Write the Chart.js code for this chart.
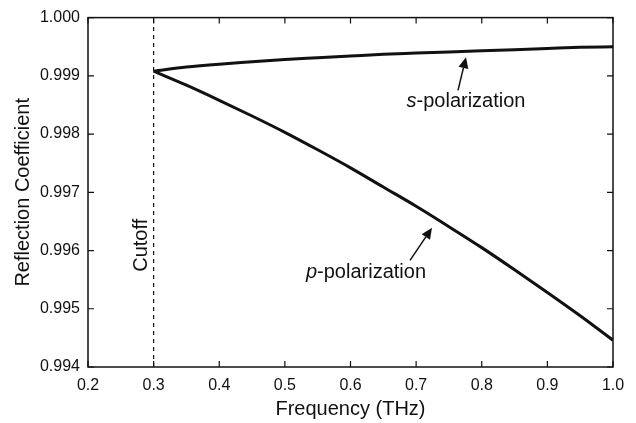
<!DOCTYPE html>
<html>
<head>
<meta charset="utf-8">
<script src="https://cdn.jsdelivr.net/npm/chart.js@4.4.1/dist/chart.umd.min.js"></script>
<style>
  html, body { margin: 0; padding: 0; background: #fff; }
  #wrap { width: 636px; height: 423px; }
</style>
</head>
<body>
<div id="wrap"><canvas id="grafico"></canvas></div>
<script>
// frecuencias (THz) y coeficientes de reflexion
const frecuencias = [0.30, 0.35, 0.40, 0.45, 0.50, 0.55, 0.60, 0.65, 0.70, 0.75, 0.80, 0.85, 0.90, 0.95, 1.00]
const polS = [0.99908, 0.99915, 0.99920, 0.99924, 0.99928, 0.99931, 0.99934, 0.99937, 0.99939, 0.99941, 0.99943, 0.99945, 0.99947, 0.99949, 0.99950]
const polP = [0.99908, 0.99884, 0.99858, 0.99831, 0.99803, 0.99773, 0.99742, 0.99709, 0.99676, 0.99641, 0.99605, 0.99567, 0.99528, 0.99488, 0.99446]
const corte = 0.3
const ticksX = [0.2, 0.3, 0.4, 0.5, 0.6, 0.7, 0.8, 0.9, 1.0]
const ticksY = [0.994, 0.995, 0.996, 0.997, 0.998, 0.999, 1.000]

const negro = "#111"
Chart.defaults.font.family = "'Liberation Sans', Arial, sans-serif"
Chart.defaults.color = negro

const puntos = (ys) => frecuencias.map((x, i) => ({ x: x, y: ys[i] }))

// ticks hacia adentro, marco y anotaciones
const marco = {
    id: "marco",
    afterDatasetsDraw(chart) {
        const { ctx, chartArea: a, scales: { x, y } } = chart
        ctx.save()
        ctx.strokeStyle = negro
        ctx.lineWidth = 1.5
        ctx.strokeRect(a.left, a.top, a.right - a.left, a.bottom - a.top)
        ctx.lineWidth = 1.2
        ticksX.forEach(v => {
            const px = x.getPixelForValue(v)
            ctx.beginPath()
            ctx.moveTo(px, a.bottom); ctx.lineTo(px, a.bottom - 6)
            ctx.moveTo(px, a.top); ctx.lineTo(px, a.top + 6)
            ctx.stroke()
        })
        ticksY.forEach(v => {
            const py = y.getPixelForValue(v)
            ctx.beginPath()
            ctx.moveTo(a.left, py); ctx.lineTo(a.left + 6, py)
            ctx.moveTo(a.right, py); ctx.lineTo(a.right - 6, py)
            ctx.stroke()
        })

        // texto Cutoff vertical
        ctx.fillStyle = negro
        ctx.font = "20px 'Liberation Sans', Arial, sans-serif"
        ctx.textAlign = "center"
        ctx.textBaseline = "middle"
        ctx.save()
        ctx.translate(x.getPixelForValue(0.2808), y.getPixelForValue(0.99609))
        ctx.rotate(-Math.PI / 2)
        ctx.fillText("Cutoff", 0, 0)
        ctx.restore()

        etiqueta(ctx, "s", "-polarization", x.getPixelForValue(0.776), y.getPixelForValue(0.99856))
        etiqueta(ctx, "p", "-polarization", x.getPixelForValue(0.6236), y.getPixelForValue(0.99562))

        flecha(ctx, x.getPixelForValue(0.7638), y.getPixelForValue(0.99875), x.getPixelForValue(0.776), y.getPixelForValue(0.99932))
        flecha(ctx, x.getPixelForValue(0.6907), y.getPixelForValue(0.99583), x.getPixelForValue(0.7242), y.getPixelForValue(0.99639))
        ctx.restore()
    }
}

function etiqueta(ctx, cursiva, resto, cx, cy) {
    const normal = "20px 'Liberation Sans', Arial, sans-serif"
    const italica = "italic 20px 'Liberation Sans', Arial, sans-serif"
    ctx.textAlign = "left"
    ctx.textBaseline = "middle"
    ctx.font = italica
    const w1 = ctx.measureText(cursiva).width
    ctx.font = normal
    const w2 = ctx.measureText(resto).width
    const x0 = cx - (w1 + w2) / 2
    ctx.font = italica
    ctx.fillText(cursiva, x0, cy)
    ctx.font = normal
    ctx.fillText(resto, x0 + w1, cy)
}

function flecha(ctx, x1, y1, x2, y2) {
    const ang = Math.atan2(y2 - y1, x2 - x1)
    const largo = 11, ancho = 5
    const bx = x2 - largo * Math.cos(ang), by = y2 - largo * Math.sin(ang)
    ctx.strokeStyle = negro
    ctx.fillStyle = negro
    ctx.lineWidth = 1.5
    ctx.beginPath()
    ctx.moveTo(x1, y1); ctx.lineTo(bx, by)
    ctx.stroke()
    ctx.beginPath()
    ctx.moveTo(x2, y2)
    ctx.lineTo(bx + ancho * Math.sin(ang), by - ancho * Math.cos(ang))
    ctx.lineTo(bx - ancho * Math.sin(ang), by + ancho * Math.cos(ang))
    ctx.closePath()
    ctx.fill()
}

new Chart(document.getElementById("grafico"), {
    type: "scatter",
    data: {
        datasets: [
            { label: "s-polarization", data: puntos(polS), showLine: true, borderColor: negro, borderWidth: 3, pointRadius: 0, tension: 0.4, cubicInterpolationMode: "monotone" },
            { label: "p-polarization", data: puntos(polP), showLine: true, borderColor: negro, borderWidth: 3, pointRadius: 0, cubicInterpolationMode: "monotone" },
            { label: "Cutoff", data: [{ x: corte, y: 0.994 }, { x: corte, y: 1.0 }], showLine: true, borderColor: negro, borderWidth: 1.2, borderDash: [4, 4], pointRadius: 0 }
        ]
    },
    options: {
        responsive: true,
        maintainAspectRatio: false,
        animation: false,
        layout: { padding: { top: 16, right: 23, left: 0, bottom: 0 } },
        plugins: { legend: { display: false }, tooltip: { enabled: false } },
        scales: {
            x: {
                type: "linear",
                min: 0.2, max: 1.0,
                afterBuildTicks: (s) => { s.ticks = ticksX.map(v => ({ value: v })) },
                afterFit: (s) => { s.height = 56 },
                grid: { display: false, drawTicks: false },
                border: { display: false },
                ticks: { padding: 9, font: { size: 16 }, color: negro, maxRotation: 0, callback: (v) => Number(v).toFixed(1) },
                title: { display: true, text: "Frequency (THz)", font: { size: 20 }, color: negro, padding: { top: 0, bottom: 2 } }
            },
            y: {
                type: "linear",
                min: 0.994, max: 1.0,
                afterBuildTicks: (s) => { s.ticks = ticksY.map(v => ({ value: v })) },
                afterFit: (s) => { s.width = 88 },
                grid: { display: false, drawTicks: false },
                border: { display: false },
                ticks: { padding: 8, font: { size: 16 }, color: negro, callback: (v) => Number(v).toFixed(3) },
                title: { display: true, text: "Reflection Coefficient", font: { size: 20 }, color: negro, padding: { top: 11, bottom: 0 } }
            }
        }
    },
    plugins: [marco]
})
</script>
</body>
</html>
